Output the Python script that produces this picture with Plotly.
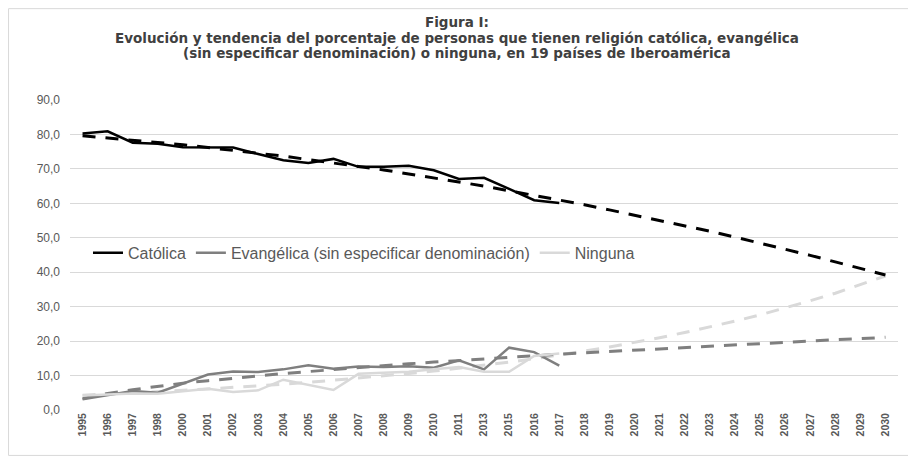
import plotly.graph_objects as go

years = ["1995", "1996", "1997", "1998", "2000", "2001", "2002", "2003", "2004", "2005",
         "2006", "2007", "2008", "2009", "2010", "2011", "2013", "2015", "2016", "2017",
         "2018", "2019", "2020", "2021", "2022", "2023", "2024", "2025", "2026", "2027",
         "2028", "2029", "2030"]

catolica = [80.3, 80.9, 77.6, 77.3, 76.3, 76.2, 76.2, 74.3, 72.5, 71.7, 72.9, 70.6, 70.6,
            70.9, 69.6, 67.1, 67.4, 64.2, 60.9, 60.1]
evangelica = [3.1, 4.2, 5.5, 5.0, 7.6, 10.3, 11.2, 11.0, 11.8, 13.0, 12.0, 12.6, 12.5, 12.7,
              12.3, 14.4, 11.8, 18.1, 16.8, 12.9]
ninguna = [4.2, 4.5, 4.8, 4.7, 5.4, 6.2, 5.2, 5.7, 8.8, 7.2, 5.8, 10.5, 10.9, 11.1, 11.8,
           12.5, 11.1, 11.1, 15.7, 16.4]

catolica_tend = [79.6, 79.0, 78.4, 77.7, 77.0, 76.2, 75.4, 74.6, 73.7, 72.7, 71.8, 70.7, 69.7,
                 68.6, 67.4, 66.2, 65.0, 63.7, 62.4, 61.0, 59.6, 58.1, 56.6, 55.1, 53.5, 51.9,
                 50.2, 48.5, 46.7, 44.9, 43.0, 41.1, 39.2]
evangelica_tend = [3.3, 4.8, 5.9, 6.9, 7.8, 8.5, 9.3, 9.9, 10.6, 11.2, 11.8, 12.3, 12.9, 13.4,
                   13.9, 14.4, 14.8, 15.3, 15.7, 16.2, 16.6, 17.0, 17.4, 17.8, 18.2, 18.6,
                   18.9, 19.3, 19.7, 20.0, 20.4, 20.7, 21.1]
ninguna_tend = [4.3, 4.6, 5.0, 5.3, 5.7, 6.1, 6.5, 7.0, 7.5, 8.0, 8.6, 9.2, 9.9, 10.6, 11.3,
                12.1, 13.0, 13.9, 14.9, 15.9, 17.1, 18.3, 19.6, 21.0, 22.5, 24.1, 25.8, 27.6,
                29.6, 31.7, 33.9, 36.3, 38.9]

title_lines = ["Figura I:",
               "Evolución y tendencia del porcentaje de personas que tienen religión católica, evangélica",
               "(sin especificar denominación) o ninguna, en 19 países de Iberoamérica"]

C_CAT = "#000000"
C_EV = "#7f7f7f"
C_NIN = "#d9d9d9"
DASH = "13px,10px"

fig = go.Figure()
fig.add_trace(go.Scatter(x=years, y=ninguna_tend, mode="lines", showlegend=False,
                         line=dict(color=C_NIN, width=3, dash=DASH), hoverinfo="skip"))
fig.add_trace(go.Scatter(x=years, y=evangelica_tend, mode="lines", showlegend=False,
                         line=dict(color=C_EV, width=3, dash=DASH), hoverinfo="skip"))
fig.add_trace(go.Scatter(x=years, y=catolica_tend, mode="lines", showlegend=False,
                         line=dict(color=C_CAT, width=3, dash=DASH), hoverinfo="skip"))
fig.add_trace(go.Scatter(x=years[:len(catolica)], y=catolica, mode="lines", name="Católica",
                         line=dict(color=C_CAT, width=2.5), legendrank=1))
fig.add_trace(go.Scatter(x=years[:len(evangelica)], y=evangelica, mode="lines",
                         name="Evangélica (sin especificar denominación)",
                         line=dict(color=C_EV, width=2.5), legendrank=2))
fig.add_trace(go.Scatter(x=years[:len(ninguna)], y=ninguna, mode="lines", name="Ninguna",
                         line=dict(color=C_NIN, width=2.5), legendrank=3))

# page body has an 8px default margin, so the figure is laid out 8px up/left
OFF = 8
W, H = 908, 452
L, R, T, B = 62, 17.5, 92, 49.5
pw, ph = W - L - R, H - T - B


def px_x(x):
    return (x - OFF - L) / pw


def px_y(y):
    return (H - B - (y - OFF)) / ph


annotations = []
for txt, ypix in zip(title_lines, [22, 37.5, 53]):
    annotations.append(dict(text="<b>" + txt + "</b>", xref="paper", yref="paper",
                            x=px_x(457), y=px_y(ypix), xanchor="center", yanchor="middle",
                            showarrow=False,
                            font=dict(family="DejaVu Sans, Liberation Sans, Arial", size=13.5,
                                      color="#404040")))

fig.update_layout(
    width=W, height=H,
    margin=dict(l=L, r=R, t=T, b=B, autoexpand=False),
    paper_bgcolor="white", plot_bgcolor="white",
    separators=",.",
    font=dict(family="Liberation Sans, Arial", color="#595959"),
    legend=dict(orientation="h", x=px_x(88), y=px_y(253), xanchor="left", yanchor="middle",
                bgcolor="rgba(0,0,0,0)", font=dict(size=16, color="#595959"),
                traceorder="normal"),
    xaxis=dict(type="category", range=[-0.5, 32.5], tickangle=-90, showgrid=False,
               showline=False, ticks="", automargin=False,
               tickfont=dict(family="Liberation Sans, Arial", size=10.5, color="#595959",
                             weight="bold")),
    yaxis=dict(range=[0, 90], dtick=10, tickformat=".1f", showgrid=True, gridcolor="#d9d9d9",
               gridwidth=1, zeroline=False, showline=False, ticks="", automargin=False,
               ticklabelstandoff=9, tickfont=dict(size=12, color="#595959")),
    annotations=annotations,
    shapes=[dict(type="rect", xref="paper", yref="paper",
                 x0=px_x(8.5), x1=px_x(913), y0=px_y(456), y1=px_y(8.5),
                 line=dict(color="#d9d9d9", width=1), fillcolor="rgba(0,0,0,0)", layer="below")],
    showlegend=True,
)

fig.write_html("out.html")
